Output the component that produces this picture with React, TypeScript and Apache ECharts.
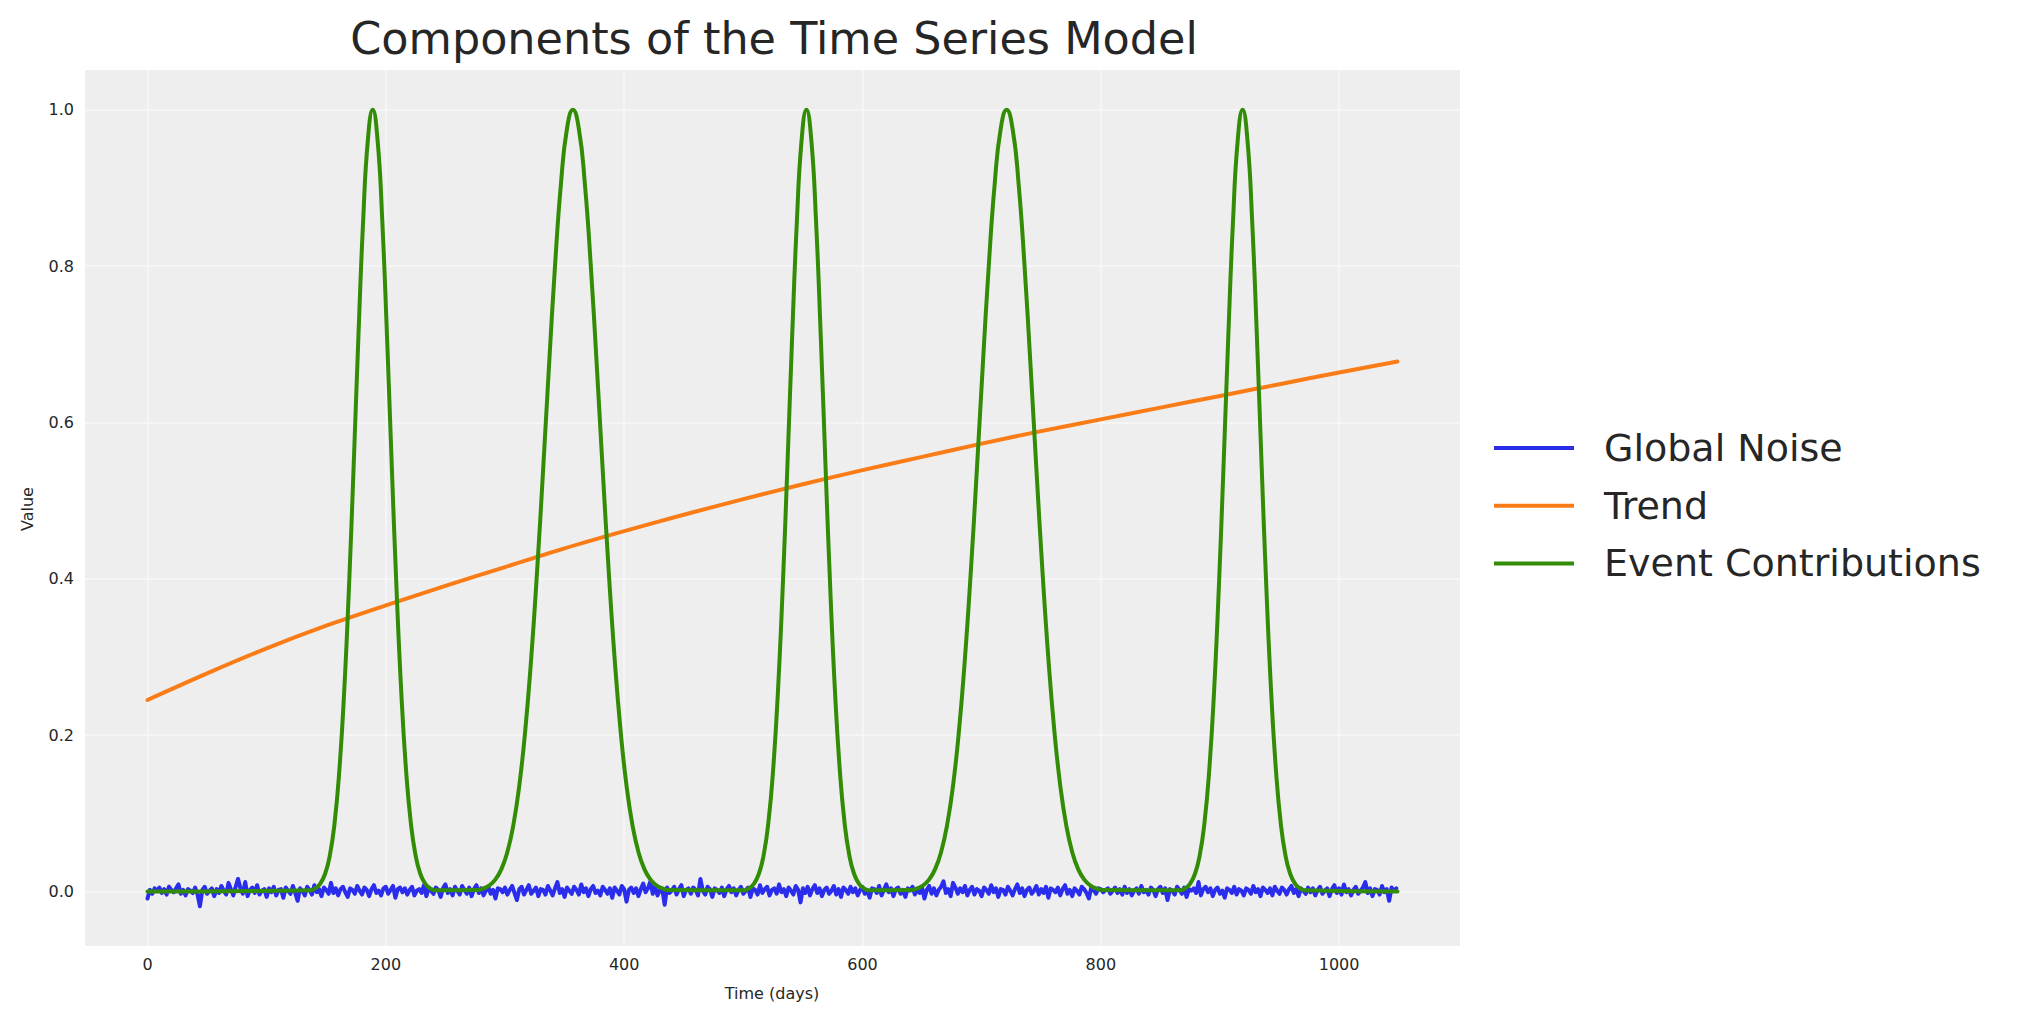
import { useEffect, useRef } from "react";
import * as echarts from "echarts";

const FONT = "DejaVu Sans";
const TEXT_COLOR = "#262626";

const TITLE = "Components of the Time Series Model";
const X_NAME = "Time (days)";
const Y_NAME = "Value";
const SERIES_NAMES = ["Global Noise", "Trend", "Event Contributions"];
const SERIES_COLORS = ["#2a2eec", "#fa7c17", "#328c06"];

const X_TICKS = [0, 200, 400, 600, 800, 1000];
const Y_TICKS = [0, 0.2, 0.4, 0.6, 0.8, 1.0];
const X_MIN = -52.45;
const X_MAX = 1101.45;
const Y_MIN = -0.0698;
const Y_MAX = 1.051;

const NOISE_STEP = 2;

// Global noise, sampled every 2 days (day 0 .. 1048)
const noiseValues = [
  -0.009, 0.002, -0.003, 0.004, 0.001, 0.005, -0.002, 0.003, -0.004, 0.006,
  0.002, -0.001, 0.004, 0.009, -0.003, 0.002, -0.005, 0.003, 0.001, -0.002,
  0.005, -0.004, -0.019, 0.002, 0.006, -0.003, 0.001, 0.004, -0.006, 0.003,
  -0.002, 0.007, 0.001, -0.004, 0.011, 0.003, -0.005, 0.006, 0.016, 0.004,
  -0.003, 0.012, -0.006, 0.002, 0.005, -0.002, 0.008, -0.004, 0.001, 0.003,
  -0.007, 0.004, -0.001, 0.006, -0.005, 0.002, 0.003, -0.008, 0.005, 0.001,
  -0.003, 0.007, -0.002, -0.012, 0.004, 0.001, -0.005, 0.006, 0.002, -0.004,
  0.008, -0.001, 0.003, -0.006, 0.005, 0.002, -0.003, 0.011, -0.002, 0.004,
  -0.005, 0.003, 0.006, -0.001, -0.007, 0.004, 0.002, -0.003, 0.007, 0.001,
  -0.004, 0.005, 0.002, -0.006, 0.003, 0.008, -0.002, 0.001, -0.005, 0.004,
  0.006, -0.003, 0.002, 0.007, -0.008, 0.003, 0.005, -0.001, 0.004, -0.004,
  0.002, 0.006, -0.005, 0.001, 0.003, -0.002, 0.008, -0.006, 0.004, 0.001,
  -0.003, 0.005, 0.002, -0.007, 0.004, 0.009, -0.002, 0.003, -0.005, 0.006,
  0.001, -0.004, 0.007, 0.002, -0.003, 0.005, -0.006, 0.003, 0.008, -0.002,
  0.004, -0.005, 0.001, 0.006, -0.003, 0.002, -0.009, 0.004, 0.003, -0.001,
  0.005, -0.004, 0.002, 0.007, -0.002, -0.011, 0.003, 0.006, -0.004, 0.002,
  0.008, -0.003, 0.001, 0.005, -0.006, 0.003, 0.002, -0.004, 0.007, 0.001,
  -0.005, 0.004, 0.012, -0.002, 0.003, -0.007, 0.005, 0.001, -0.003, 0.006,
  0.002, -0.004, 0.009, -0.001, 0.004, -0.006, 0.003, 0.007, -0.002, 0.001,
  -0.005, 0.006, 0.002, -0.003, 0.004, -0.008, 0.005, 0.001, -0.004, 0.007,
  0.003, -0.013, 0.002, 0.005, -0.002, 0.004, -0.006, 0.003, 0.010, -0.001,
  0.004, 0.013, -0.003, 0.006, -0.005, 0.002, 0.003, -0.017, 0.005, -0.002,
  0.001, 0.006, -0.004, 0.003, 0.008, -0.006, 0.002, 0.004, -0.003, 0.005,
  0.002, -0.005, 0.016, 0.001, -0.004, 0.006, 0.003, -0.007, 0.004, 0.002,
  -0.002, 0.005, -0.006, 0.003, 0.007, -0.001, 0.004, -0.005, 0.002, 0.006,
  -0.003, 0.001, 0.005, -0.007, 0.004, 0.002, -0.004, 0.008, -0.002, 0.003,
  0.006, -0.005, 0.002, 0.004, -0.003, 0.009, -0.001, 0.003, -0.006, 0.005,
  0.001, -0.004, 0.007, 0.002, -0.014, 0.004, -0.002, 0.006, -0.005, 0.003,
  0.008, -0.002, 0.004, -0.006, 0.002, 0.005, -0.003, 0.001, 0.007, -0.004,
  0.003, -0.007, 0.005, 0.002, -0.003, 0.006, -0.001, 0.004, -0.005, 0.002,
  0.006, -0.003, 0.001, -0.008, 0.004, 0.003, -0.002, 0.007, -0.005, 0.002,
  0.009, -0.001, 0.004, -0.006, 0.003, 0.005, -0.003, 0.002, -0.007, 0.004,
  0.001, 0.006, -0.004, 0.003, -0.002, 0.005, -0.009, 0.002, 0.007, -0.003,
  0.004, -0.005, 0.002, 0.006, 0.013, -0.002, 0.003, -0.006, 0.011, 0.005,
  -0.003, 0.004, -0.001, 0.007, -0.005, 0.002, 0.006, -0.004, 0.003, 0.001,
  -0.006, 0.005, 0.002, -0.003, 0.008, -0.001, 0.004, -0.007, 0.003, 0.002,
  -0.004, 0.006, 0.001, -0.005, 0.003, 0.009, -0.002, 0.004, -0.006, 0.002,
  0.005, -0.003, 0.001, 0.007, -0.004, 0.003, -0.002, 0.006, -0.008, 0.004,
  0.002, -0.001, 0.005, -0.005, 0.003, 0.008, -0.003, 0.002, -0.006, 0.004,
  0.001, -0.004, 0.006, 0.003, -0.002, -0.009, 0.005, 0.002, -0.003, 0.004,
  0.003, -0.001, 0.002, 0.004, -0.003, 0.001, 0.005, -0.002, 0.003, -0.004,
  0.006, -0.002, 0.003, -0.005, 0.001, 0.004, -0.003, 0.007, -0.001, 0.002,
  -0.004, 0.005, 0.002, -0.006, 0.003, 0.006, -0.002, 0.004, -0.011, 0.003,
  0.001, -0.004, 0.006, 0.002, -0.003, 0.005, -0.007, 0.003, 0.001, 0.004,
  -0.002, 0.012, -0.005, 0.003, 0.006, -0.001, 0.004, -0.006, 0.002, 0.005,
  -0.003, 0.001, -0.008, 0.004, 0.002, -0.002, 0.006, -0.004, 0.003, 0.001,
  -0.005, 0.004, 0.002, -0.003, 0.007, -0.001, 0.003, -0.006, 0.005, 0.002,
  -0.002, 0.004, -0.005, 0.006, 0.001, -0.003, 0.005, 0.002, -0.004, 0.003,
  0.007, -0.002, 0.003, -0.006, 0.004, 0.001, -0.003, 0.005, -0.001, 0.004,
  -0.005, 0.002, 0.006, -0.003, 0.001, 0.004, -0.006, 0.003, 0.008, -0.002,
  0.004, -0.004, 0.009, -0.001, 0.003, -0.005, 0.002, 0.006, -0.003, 0.001,
  0.005, 0.012, -0.002, 0.004, -0.006, 0.003, 0.002, -0.004, 0.007, -0.001,
  0.003, -0.012, 0.005, 0.001, 0.004,
];

// Trend, read every 50 days
const trendDays = [0, 50, 100, 150, 200, 250, 300, 350, 400, 450, 500, 550, 600, 650, 700, 750, 800, 850, 900, 950, 1000, 1049];
const trendValues = [0.245, 0.279, 0.311, 0.34, 0.366, 0.391, 0.415, 0.439, 0.461, 0.482, 0.502, 0.521, 0.539, 0.556, 0.573, 0.589, 0.604, 0.619, 0.634, 0.649, 0.664, 0.678];

// Event contributions (five bumps peaking at 1.0)
const eventDays = [
  0,
  137, 141, 145, 149, 153, 157, 161, 165, 169, 173, 177, 181, 185, 189, 193, 197, 201, 205, 209, 213, 217, 221, 225, 229, 233, 237, 241,
  277, 282, 287, 292, 297, 302, 307, 312, 317, 322, 327, 332, 337, 342, 347, 352, 357, 362, 367, 372, 377, 382, 387, 392, 397, 402, 407, 412, 417, 422, 427, 432, 437,
  501, 505, 509, 513, 517, 521, 525, 529, 533, 537, 541, 545, 549, 553, 557, 561, 565, 569, 573, 577, 581, 585, 589, 593, 597, 601, 605,
  641, 646, 651, 656, 661, 666, 671, 676, 681, 686, 691, 696, 701, 706, 711, 716, 721, 726, 731, 736, 741, 746, 751, 756, 761, 766, 771, 776, 781, 786, 791, 796, 801,
  867, 871, 875, 879, 883, 887, 891, 895, 899, 903, 907, 911, 915, 919, 923, 927, 931, 935, 939, 943, 947, 951, 955, 959, 963, 967, 971,
  1049,
];
const eventValues = [
  0,
  0.0016, 0.0042, 0.01, 0.0223, 0.0459, 0.0876, 0.1549, 0.2541, 0.3863, 0.544, 0.7101, 0.8588, 0.9627, 1.0, 0.9627, 0.8588, 0.7101, 0.544, 0.3863, 0.2541, 0.1549, 0.0876, 0.0459, 0.0223, 0.01, 0.0042, 0.0016,
  0.0018, 0.0039, 0.0079, 0.0154, 0.0286, 0.0504, 0.0847, 0.1353, 0.2059, 0.2982, 0.4111, 0.5394, 0.6736, 0.8007, 0.906, 0.9756, 1.0, 0.9756, 0.906, 0.8007, 0.6736, 0.5394, 0.4111, 0.2982, 0.2059, 0.1353, 0.0847, 0.0504, 0.0286, 0.0154, 0.0079, 0.0039, 0.0018,
  0.0016, 0.0042, 0.01, 0.0223, 0.0459, 0.0876, 0.1549, 0.2541, 0.3863, 0.544, 0.7101, 0.8588, 0.9627, 1.0, 0.9627, 0.8588, 0.7101, 0.544, 0.3863, 0.2541, 0.1549, 0.0876, 0.0459, 0.0223, 0.01, 0.0042, 0.0016,
  0.0018, 0.0039, 0.0079, 0.0154, 0.0286, 0.0504, 0.0847, 0.1353, 0.2059, 0.2982, 0.4111, 0.5394, 0.6736, 0.8007, 0.906, 0.9756, 1.0, 0.9756, 0.906, 0.8007, 0.6736, 0.5394, 0.4111, 0.2982, 0.2059, 0.1353, 0.0847, 0.0504, 0.0286, 0.0154, 0.0079, 0.0039, 0.0018,
  0.0016, 0.0042, 0.01, 0.0223, 0.0459, 0.0876, 0.1549, 0.2541, 0.3863, 0.544, 0.7101, 0.8588, 0.9627, 1.0, 0.9627, 0.8588, 0.7101, 0.544, 0.3863, 0.2541, 0.1549, 0.0876, 0.0459, 0.0223, 0.01, 0.0042, 0.0016,
  0,
];

export default function App() {
  const ref = useRef<HTMLDivElement>(null);

  useEffect(() => {
    if (!ref.current) return;
    const chart = echarts.init(ref.current, null, { renderer: "svg" });

    const noiseData = noiseValues.map((v, i) => [i * NOISE_STEP, v]);
    const trendData = trendDays.map((d, i) => [d, trendValues[i]]);
    const eventData = eventDays.map((d, i) => [d, eventValues[i]]);

    const labelStyle = { fontFamily: FONT, fontSize: 16, color: TEXT_COLOR };
    const LINE_W = 4;
    const GRID_LINE = { show: true, lineStyle: { color: "#f7f7f7", width: 1.6 } };

    chart.setOption({
      animation: false,
      backgroundColor: "#ffffff",
      textStyle: { fontFamily: FONT },
      title: {
        text: TITLE,
        left: 769,
        top: 11,
        textAlign: "center",
        textStyle: { fontFamily: FONT, fontSize: 44.5, fontWeight: "normal", color: TEXT_COLOR },
      },
      legend: {
        orient: "vertical",
        left: 1489,
        top: 424,
        itemWidth: 80,
        itemHeight: 4,
        itemGap: 19.7,
        icon: "rect",
        data: SERIES_NAMES,
        textStyle: { fontFamily: FONT, fontSize: 38, color: TEXT_COLOR, padding: [0, 0, 0, 25] },
      },
      grid: {
        left: 85,
        top: 70,
        width: 1375,
        height: 876,
        show: true,
        backgroundColor: "#eeeeee",
        borderWidth: 0,
      },
      xAxis: {
        type: "value",
        min: X_MIN,
        max: X_MAX,
        axisLine: { show: false },
        axisTick: { show: false, customValues: X_TICKS },
        axisLabel: {
          ...labelStyle,
          margin: 10,
          customValues: X_TICKS,
          formatter: (v: number) => String(Math.round(v)),
        },
        splitLine: GRID_LINE,
      },
      yAxis: {
        type: "value",
        min: Y_MIN,
        max: Y_MAX,
        axisLine: { show: false },
        axisTick: { show: false, customValues: Y_TICKS },
        axisLabel: {
          ...labelStyle,
          margin: 11,
          customValues: Y_TICKS,
          formatter: (v: number) => v.toFixed(1),
        },
        splitLine: GRID_LINE,
      },
      graphic: [
        {
          type: "text",
          x: 772,
          y: 993,
          style: { text: X_NAME, fontFamily: FONT, fontSize: 16, fill: TEXT_COLOR, align: "center", verticalAlign: "middle" },
        },
        {
          type: "text",
          x: 27,
          y: 509,
          rotation: Math.PI / 2,
          style: { text: Y_NAME, fontFamily: FONT, fontSize: 16, fill: TEXT_COLOR, align: "center", verticalAlign: "middle" },
        },
      ],
      series: [
        {
          name: SERIES_NAMES[0],
          type: "line",
          data: noiseData,
          symbol: "none",
          color: SERIES_COLORS[0],
          lineStyle: { width: LINE_W, color: SERIES_COLORS[0], join: "round", cap: "round" },
          z: 2,
        },
        {
          name: SERIES_NAMES[1],
          type: "line",
          data: trendData,
          symbol: "none",
          smooth: 0.3,
          color: SERIES_COLORS[1],
          lineStyle: { width: LINE_W, color: SERIES_COLORS[1], cap: "round" },
          z: 3,
        },
        {
          name: SERIES_NAMES[2],
          type: "line",
          data: eventData,
          symbol: "none",
          smooth: 0.5,
          color: SERIES_COLORS[2],
          lineStyle: { width: LINE_W, color: SERIES_COLORS[2], join: "round", cap: "round" },
          z: 4,
        },
      ],
    });

    return () => chart.dispose();
  }, []);

  return (
    <div
      ref={ref}
      style={{ position: "absolute", left: 0, top: 0, width: 2023, height: 1023 }}
    />
  );
}
